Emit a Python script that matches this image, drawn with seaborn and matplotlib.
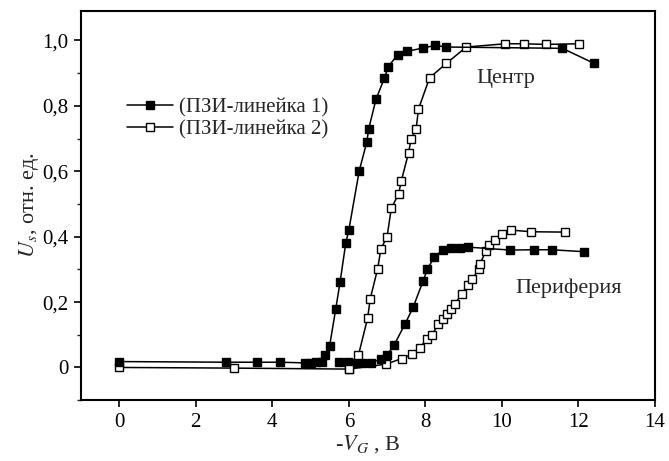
import matplotlib
matplotlib.use("Agg")
import matplotlib.pyplot as plt
import seaborn as sns
import pandas as pd
from matplotlib.ticker import MultipleLocator
from matplotlib.lines import Line2D

# ---- data ----
center_filled_x = [0, 2.8, 3.6, 4.2, 4.85, 5.0, 5.15, 5.3, 5.39, 5.5, 5.66, 5.77, 5.92, 6.0,
                   6.27, 6.47, 6.52, 6.71, 6.93, 7.03, 7.28, 7.53, 7.94, 8.26, 8.55, 11.58, 12.41]
center_filled_y = [0.018, 0.016, 0.016, 0.016, 0.014, 0.015, 0.016, 0.018, 0.037, 0.067, 0.18, 0.26,
                   0.38, 0.42, 0.60, 0.69, 0.73, 0.82, 0.885, 0.92, 0.957, 0.967, 0.977, 0.985,
                   0.98, 0.976, 0.93]

center_open_x = [0, 3.0, 6.0, 6.25, 6.49, 6.56, 6.75, 6.84, 7.0, 7.11, 7.30, 7.37, 7.56, 7.63,
                 7.76, 7.82, 8.11, 8.55, 9.07, 10.09, 10.57, 11.14, 12.02]
center_open_y = [0.0, -0.002, -0.005, 0.037, 0.15, 0.21, 0.30, 0.363, 0.40, 0.487, 0.53, 0.57,
                 0.656, 0.70, 0.73, 0.79, 0.886, 0.93, 0.98, 0.99, 0.99, 0.988, 0.99]

periph_filled_x = [5.75, 5.97, 6.14, 6.35, 6.58, 6.84, 7.0, 7.19, 7.47, 7.68, 7.94, 8.05, 8.23,
                   8.46, 8.68, 8.9, 9.12, 10.22, 10.83, 11.3, 12.15]
periph_filled_y = [0.018, 0.018, 0.013, 0.013, 0.013, 0.027, 0.037, 0.07, 0.133, 0.184, 0.264,
                   0.30, 0.337, 0.36, 0.366, 0.366, 0.368, 0.359, 0.36, 0.36, 0.354]

periph_open_x = [6.0, 6.97, 7.38, 7.65, 7.86, 8.05, 8.17, 8.34, 8.46, 8.57, 8.67, 8.77, 8.95,
                 9.12, 9.22, 9.4, 9.43, 9.58, 9.67, 9.81, 10.0, 10.25, 10.77, 11.65]
periph_open_y = [-0.005, 0.01, 0.027, 0.04, 0.061, 0.088, 0.10, 0.132, 0.149, 0.165, 0.18, 0.194,
                 0.225, 0.253, 0.27, 0.30, 0.317, 0.356, 0.376, 0.389, 0.407, 0.42, 0.415, 0.414]

x_ticks = [0, 2, 4, 6, 8, 10, 12, 14]
y_ticks = [0, 0.2, 0.4, 0.6, 0.8, 1.0]
y_tick_labels = ["0", "0,2", "0,4", "0,6", "0,8", "1,0"]
legend_labels = ["(ПЗИ-линейка 1)", "(ПЗИ-линейка 2)"]

# ---- style ----
sns.set_theme(style="ticks")
plt.rcParams["font.family"] = ["Liberation Serif", "DejaVu Serif"]
plt.rcParams["mathtext.fontset"] = "stix"

fig = plt.figure(figsize=(6.69, 4.61), dpi=100)
ax = fig.add_axes([0.121, 0.132, 0.858, 0.844])

ms = 5.8
common = dict(color="black", linewidth=1.1, estimator=None, sort=False, ax=ax,
              marker="s", markersize=ms, markeredgecolor="black", markeredgewidth=1.0)

series = [
    (periph_open_x, periph_open_y, "white"),
    (periph_filled_x, periph_filled_y, "black"),
    (center_open_x, center_open_y, "white"),
    (center_filled_x, center_filled_y, "black"),
]
for xs, ys, fc in series:
    df = pd.DataFrame({"x": xs, "y": ys})
    sns.lineplot(data=df, x="x", y="y", markerfacecolor=fc, **common)

ax.set_xlim(-1, 14)
ax.set_ylim(-0.1, 1.09)
ax.set_xticks(x_ticks)
ax.set_xticklabels([str(t) for t in x_ticks])
ax.set_yticks(y_ticks)
ax.set_yticklabels(y_tick_labels)
ax.yaxis.set_minor_locator(MultipleLocator(0.1))
ax.tick_params(axis="both", which="major", direction="out", length=5, width=1.2,
               labelsize=15, colors="black", top=False, right=False, pad=4)
ax.tick_params(axis="y", which="minor", direction="out", length=3, width=1.0, left=True)
for s in ax.spines.values():
    s.set_visible(True)
    s.set_linewidth(1.5)
    s.set_color("black")

ax.set_xlabel(r"-$V_G$ , В", fontsize=16, labelpad=1)
ax.set_ylabel(r"$U_s$, отн. ед.", fontsize=16, labelpad=1)

ax.text(9.34, 0.883, "Центр", fontsize=16, va="center", ha="left")
ax.text(10.34, 0.242, "Периферия", fontsize=16, va="center", ha="left")

h1 = Line2D([], [], color="black", linewidth=1.1, marker="s", markersize=ms,
            markerfacecolor="black", markeredgecolor="black")
h2 = Line2D([], [], color="black", linewidth=1.1, marker="s", markersize=ms,
            markerfacecolor="white", markeredgecolor="black")
ax.legend([h1, h2], legend_labels, loc="upper left", bbox_to_anchor=(0.055, 0.815),
          frameon=False, fontsize=15, handlelength=2.2, handletextpad=0.3,
          labelspacing=0.12, borderpad=0.2)

fig.savefig("out.png", dpi=100)
